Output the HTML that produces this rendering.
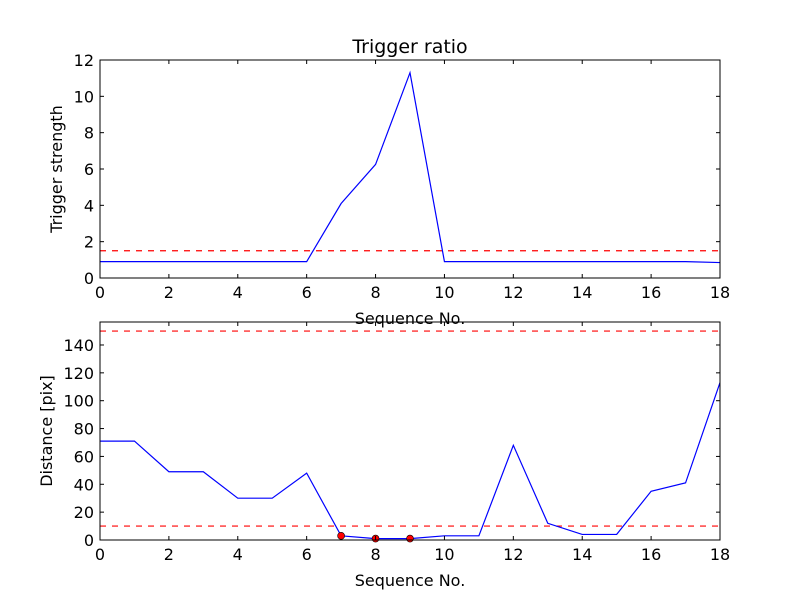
<!DOCTYPE html>
<html><head><meta charset="utf-8"><style>
body{margin:0;background:#fff;}
svg text{font-family:"DejaVu Sans","Liberation Sans",sans-serif;fill:#000;}
</style></head><body>
<svg id="c" width="800" height="600" viewBox="0 0 800 600"></svg>
<script>
const xTicks=[0,2,4,6,8,10,12,14,16,18];
const seqTop=[0,1,2,3,4,5,6,7,8,9,10,11,12,13,14,15,16,17,18];
const strength=[0.9,0.9,0.9,0.9,0.9,0.9,0.9,4.1,6.25,11.3,0.9,0.9,0.9,0.9,0.9,0.9,0.9,0.9,0.85];
const strengthThreshold=[1.5];
const topYTicks=[0,2,4,6,8,10,12];
const seqBot=[0,1,2,3,4,5,6,7,8,9,10,11,12,13,14,15,16,17,18];
const distance=[71,71,49,49,30,30,48,3,1,1,3,3,68,12,4,4,35,41,113];
const markIdx=[7,8,9];
const distThresholds=[10,150];
const botYTicks=[0,20,40,60,80,100,120,140];

const svg=document.getElementById('c');
const NS='http://www.w3.org/2000/svg';
function el(tag,attrs,parent){const e=document.createElementNS(NS,tag);for(const k in attrs)e.setAttribute(k,attrs[k]);(parent||svg).appendChild(e);return e;}

function panel(cfg){
  const {x0,x1,y0,y1,xmax,ymin,ymax,name}=cfg;
  const g=el('g',{});
  
  
  const sx=v=>x0+(v-0)/(xmax)*(x1-x0);
  const sy=v=>y1-(v-ymin)/(ymax-ymin)*(y1-y0);
  // thresholds
  cfg.thr.forEach(t=>{
    const l=el('line',{x1:x0,x2:x1,y1:sy(t),y2:sy(t),stroke:'#ff0000','stroke-width':1.2,'stroke-dasharray':'6,6'},g);
    
    
  });
  const pts=cfg.xs.map((x,i)=>sx(x)+','+sy(cfg.ys[i])).join(' ');
  const pl=el('polyline',{points:pts,fill:'none',stroke:'#0000ff','stroke-width':1.2},g);
  
  
  (cfg.marks||[]).forEach(i=>{
    const c=el('circle',{cx:sx(cfg.xs[i]),cy:sy(cfg.ys[i]),r:3.5,fill:'#ff0000',stroke:'#000','stroke-width':0.6},g);
    
    
  });
  const fr=el('rect',{x:x0,y:y0,width:x1-x0,height:y1-y0,fill:'none',stroke:'#000','stroke-width':1},g);
  
  
  xTicks.forEach(t=>{
    const x=sx(t);
    el('line',{x1:x,x2:x,y1:y1,y2:y1-4,stroke:'#000'},g);
    el('line',{x1:x,x2:x,y1:y0,y2:y0+4,stroke:'#000'},g);
    const tx=el('text',{x:x,y:y1+20,'font-size':16,'text-anchor':'middle'},g);
    tx.textContent=t;
    
    
  });
  cfg.yt.forEach(t=>{
    const y=sy(t);
    el('line',{x1:x0,x2:x0+4,y1:y,y2:y,stroke:'#000'},g);
    el('line',{x1:x1,x2:x1-4,y1:y,y2:y,stroke:'#000'},g);
    const tx=el('text',{x:x0-6,y:y+6,'font-size':16,'text-anchor':'end'},g);
    tx.textContent=t;
    
    
  });
  const xl=el('text',{x:(x0+x1)/2,y:y1+46,'font-size':16,'text-anchor':'middle'},g);
  xl.textContent='Sequence No.';
  
  
  const yc=(y0+y1)/2;
  const yl=el('text',{x:cfg.ylx,y:yc,'font-size':16,'text-anchor':'middle',transform:`rotate(-90 ${cfg.ylx} ${yc})`},g);
  yl.textContent=cfg.ylabel;
  
  
  if(cfg.title){
    const t=el('text',{x:(x0+x1)/2,y:y0-7,'font-size':19,'text-anchor':'middle'},g);
    t.textContent=cfg.title;
    
    
  }
}
panel({name:'trigger-strength-panel',x0:100,x1:720,y0:60,y1:278,xmax:18,ymin:0,ymax:12,xs:seqTop,ys:strength,thr:strengthThreshold,yt:topYTicks,ylabel:'Trigger strength',ylx:62,title:'Trigger ratio'});
panel({name:'distance-panel',x0:100,x1:720,y0:322,y1:540,xmax:18,ymin:0,ymax:156.5,xs:seqBot,ys:distance,thr:distThresholds,yt:botYTicks,ylabel:'Distance [pix]',ylx:52,marks:markIdx});
</script>
</body></html>
